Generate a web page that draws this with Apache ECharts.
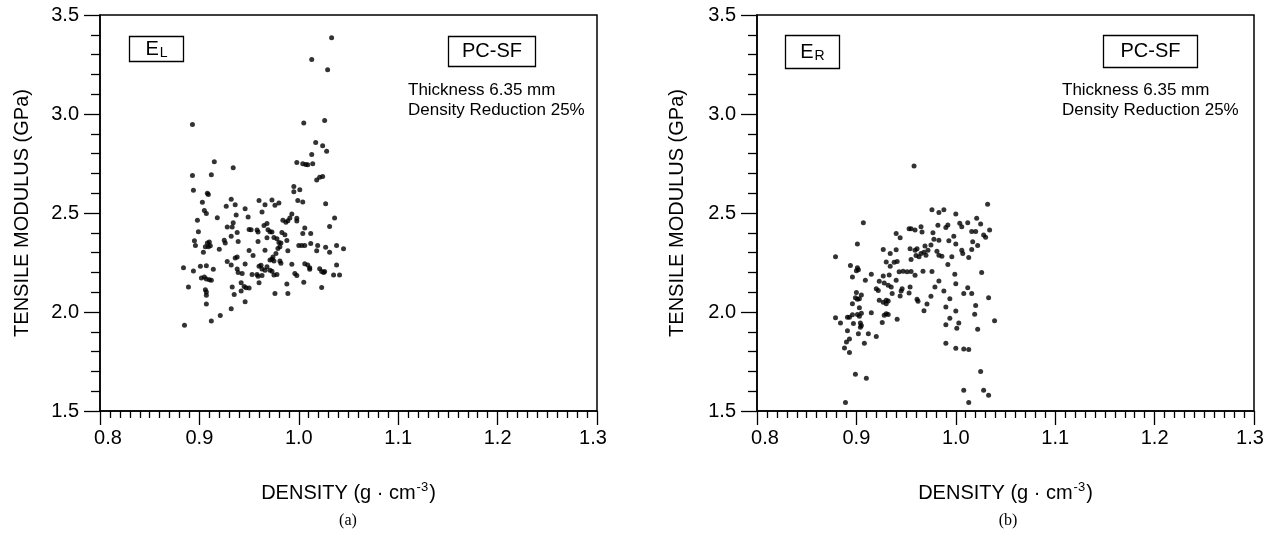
<!DOCTYPE html>
<html><head><meta charset="utf-8">
<script src="https://cdn.jsdelivr.net/npm/echarts@6/dist/echarts.min.js"></script>
<style>html,body{margin:0;padding:0;background:#fff}#c{width:1273px;height:541px}</style>
</head><body><div id="c"></div>
<script>
// ---- tick labels ----
const xTickLabels = ['0.8', '0.9', '1.0', '1.1', '1.2', '1.3'];
const yTickLabels = ['1.5', '2.0', '2.5', '3.0', '3.5'];

// ---- (a) E_L : density (g/cm3) and tensile modulus (GPa) ----
const leftDensity = [
1.033,1.013,1.029,0.893,1.005,1.026,1.017,1.024,1.028,1.013,
0.915,0.934,0.998,1.004,1.007,1.009,1.014,0.893,0.912,1.018,1.021,1.024,
0.894,0.908,0.909,0.995,0.995,1.001,0.903,0.932,0.960,0.973,0.999,1.004,1.027,
0.927,0.936,0.946,0.966,0.976,0.980,0.905,0.907,0.963,0.937,0.949,0.918,0.993,
0.984,0.987,0.989,0.991,0.998,0.998,0.898,1.036,0.934,1.031,0.928,0.933,0.965,0.968,1.006,
0.899,0.938,0.950,0.952,0.958,0.959,0.969,0.971,0.973,0.983,0.986,1.004,1.012,
0.932,0.975,0.968,0.978,0.988,0.895,0.896,0.908,0.910,0.906,0.909,0.911,0.925,0.926,0.939,0.959,
0.980,0.982,0.981,0.979,1.000,1.003,1.006,1.012,1.019,1.027,1.038,
0.920,0.904,0.950,0.954,0.966,0.977,0.989,1.018,1.031,1.045,
0.938,0.936,0.971,0.973,0.975,0.974,0.981,0.982,0.928,0.932,0.946,
0.884,0.894,0.901,0.907,0.914,0.938,0.939,0.943,
0.960,0.962,0.963,0.966,0.968,0.971,0.973,0.993,1.006,1.009,1.011,1.011,1.021,1.023,1.025,1.026,1.038,
0.953,0.958,0.959,0.963,0.975,0.978,0.996,0.998,1.035,1.041,
0.902,0.905,0.907,0.910,0.912,0.889,0.933,0.942,0.945,0.947,0.950,0.960,0.988,1.005,1.023,
0.906,0.907,0.907,0.935,0.942,0.976,0.989,0.907,0.946,0.932,0.921,0.912,0.885];
const leftModulus = [
3.385,3.275,3.223,2.947,2.955,2.967,2.856,2.840,2.812,2.796,
2.759,2.728,2.755,2.749,2.745,2.744,2.749,2.689,2.693,2.667,2.681,2.684,
2.615,2.600,2.593,2.634,2.607,2.617,2.554,2.569,2.563,2.566,2.563,2.556,2.547,
2.534,2.542,2.522,2.542,2.539,2.551,2.512,2.498,2.505,2.490,2.480,2.476,2.495,
2.464,2.453,2.461,2.475,2.473,2.459,2.464,2.475,2.451,2.432,2.429,2.429,2.437,2.447,2.424,
2.405,2.402,2.417,2.415,2.414,2.404,2.415,2.405,2.404,2.402,2.390,2.397,2.397,
2.382,2.376,2.375,2.370,2.361,2.360,2.336,2.349,2.353,2.329,2.329,2.334,2.363,2.349,2.356,2.356,
2.351,2.348,2.329,2.321,2.336,2.336,2.336,2.346,2.336,2.327,2.336,
2.317,2.302,2.310,2.285,2.312,2.295,2.309,2.309,2.302,2.319,
2.278,2.273,2.263,2.266,2.258,2.278,2.258,2.246,2.255,2.238,2.243,
2.224,2.207,2.231,2.233,2.216,2.217,2.200,2.195,
2.231,2.236,2.217,2.211,2.228,2.211,2.206,2.241,2.244,2.238,2.224,2.216,2.219,2.204,2.200,2.204,2.238,
2.189,2.189,2.180,2.184,2.187,2.189,2.194,2.184,2.187,2.187,
2.172,2.177,2.167,2.163,2.160,2.126,2.126,2.148,2.129,2.123,2.121,2.148,2.141,2.150,2.124,
2.112,2.101,2.085,2.089,2.106,2.094,2.094,2.041,2.052,2.016,1.982,1.955,1.933];

// ---- (b) E_R ----
const rightDensity = [
0.958,1.032,0.976,0.983,0.988,1.000,0.907,1.012,1.021,1.025,1.004,1.006,
0.953,0.955,0.959,0.965,0.966,0.982,0.990,0.992,1.016,1.020,1.034,0.940,0.944,0.977,1.028,1.030,
0.901,0.978,0.983,0.993,0.998,1.000,1.017,1.022,0.927,0.934,0.940,0.954,0.959,0.961,0.969,0.972,0.975,
0.960,0.963,0.965,0.968,0.970,0.981,0.983,0.986,0.996,1.006,1.007,1.016,1.013,0.879,0.930,0.934,0.938,0.941,0.955,0.894,0.901,0.902,0.992,
0.900,0.915,0.927,0.933,0.943,0.947,0.951,0.955,0.959,0.967,0.976,0.999,1.026,
0.896,0.909,0.923,0.928,0.932,0.935,0.920,0.922,0.940,0.946,0.945,0.954,0.944,0.953,
0.900,0.905,0.899,0.901,0.903,0.936,1.000,1.012,1.008,1.016,0.983,0.979,0.988,0.994,
0.961,0.962,0.975,0.971,1.033,0.896,0.903,0.923,0.927,0.930,0.932,0.930,0.990,1.000,1.020,1.019,0.968,
0.879,0.891,0.893,0.896,0.901,0.905,0.903,0.915,0.930,0.932,0.928,
0.884,0.897,0.904,0.905,0.904,0.926,0.941,0.994,1.003,0.990,1.001,1.022,1.039,
0.891,0.902,0.912,0.920,0.893,0.890,0.908,0.990,0.888,0.893,1.000,1.008,1.013,
0.899,0.910,1.025,1.008,1.028,1.033,0.889,1.013];
const rightModulus = [
2.737,2.544,2.517,2.502,2.517,2.495,2.451,2.451,2.473,2.444,2.448,2.431,
2.421,2.421,2.414,2.431,2.404,2.438,2.427,2.439,2.407,2.407,2.414,2.397,2.375,2.400,2.389,2.377,
2.343,2.367,2.363,2.360,2.383,2.343,2.355,2.336,2.316,2.295,2.314,2.319,2.312,2.319,2.333,2.312,2.339,
2.285,2.279,2.295,2.302,2.287,2.307,2.287,2.282,2.279,2.312,2.295,2.316,2.275,2.279,2.253,2.231,2.251,2.255,2.265,2.235,2.224,2.214,2.240,
2.208,2.191,2.182,2.187,2.203,2.206,2.203,2.204,2.186,2.206,2.204,2.191,2.199,
2.177,2.160,2.155,2.147,2.135,2.126,2.118,2.109,2.160,2.118,2.106,2.126,2.081,2.096,
2.098,2.086,2.072,2.064,2.067,2.093,2.143,2.123,2.093,2.093,2.157,2.126,2.106,2.067,
2.065,2.054,2.079,2.040,2.072,2.042,2.021,2.059,2.049,2.059,2.055,2.042,2.025,2.005,2.033,1.989,2.006,
1.971,1.974,1.974,1.986,1.988,1.994,1.979,1.996,1.991,1.988,1.983,
1.945,1.942,1.945,1.932,1.923,1.947,1.964,1.969,1.944,1.935,1.918,1.913,1.956,
1.905,1.890,1.890,1.876,1.864,1.849,1.842,1.842,1.818,1.795,1.817,1.813,1.810,
1.686,1.666,1.700,1.605,1.605,1.580,1.543,1.543];

const FONT = '"Liberation Sans", Arial, Helvetica, sans-serif';
const SERIF = '"Liberation Serif", "Times New Roman", serif';
const BLACK = '#000';

function pairs(xs, ys) { return xs.map((x, i) => [x, ys[i]]); }

function xAxisFor(gi) {
  return {
    gridIndex: gi, type: 'value', min: 0.8, max: 1.3, interval: 0.1,
    axisLine: { show: true, onZero: false, lineStyle: { color: BLACK, width: 1.5 } },
    axisTick: { show: true, inside: false, length: 14, lineStyle: { color: BLACK, width: 1.3 } },
    minorTick: { show: true, splitNumber: 10, length: 7, lineStyle: { color: BLACK, width: 1.3 } },
    splitLine: { show: false }, minorSplitLine: { show: false },
    axisLabel: {
      fontSize: 20, color: BLACK, fontFamily: FONT, margin: 17,
      formatter: function (v) {
        const i = Math.round((v - 0.8) / 0.1);
        const s = xTickLabels[i];
        if (i === 0) return '{first|' + s + '}';
        if (i === xTickLabels.length - 1) return '{last|' + s + '}';
        return s;
      },
      rich: {
        first: { fontSize: 20, fontFamily: FONT, color: BLACK, padding: [0, 0, 0, 16] },
        last: { fontSize: 20, fontFamily: FONT, color: BLACK, padding: [0, 8, 0, 0] }
      }
    },
    name: '{t|DENSITY (g · cm}{s|-3}{t|)}',
    nameLocation: 'middle', nameGap: 70,
    nameTextStyle: {
      rich: {
        t: { fontSize: 20, fontFamily: FONT, color: BLACK, lineHeight: 24 },
        s: { fontSize: 13, fontFamily: FONT, color: BLACK, verticalAlign: 'top', lineHeight: 24, padding: [0, 1, 12, 1] }
      }
    }
  };
}
function yAxisFor(gi, gap) {
  return {
    gridIndex: gi, type: 'value', min: 1.5, max: 3.5, interval: 0.5,
    axisLine: { show: true, onZero: false, lineStyle: { color: BLACK, width: 1.5 } },
    axisTick: { show: true, inside: false, length: 16, lineStyle: { color: BLACK, width: 1.3 } },
    minorTick: { show: true, splitNumber: 5, length: 9, lineStyle: { color: BLACK, width: 1.3 } },
    splitLine: { show: false }, minorSplitLine: { show: false },
    axisLabel: {
      fontSize: 20, color: BLACK, fontFamily: FONT, margin: 21,
      formatter: function (v) { return yTickLabels[Math.round((v - 1.5) / 0.5)]; }
    },
    name: 'TENSILE MODULUS (GPa)', nameLocation: 'middle', nameGap: gap, nameRotate: 90,
    nameTextStyle: { fontSize: 20, fontFamily: FONT, color: BLACK }
  };
}

function boxGroup(x, y, w, h, rich, textStr) {
  return {
    type: 'group', left: x, top: y, children: [
      { type: 'rect', shape: { x: 0, y: 0, width: w, height: h }, style: { fill: 'none', stroke: BLACK, lineWidth: 1.3 } },
      { type: 'text', x: w / 2, y: h / 2, style: { text: textStr, rich: rich, align: 'center', verticalAlign: 'middle', fontSize: 20, fontFamily: FONT, fill: BLACK } }
    ]
  };
}
const subRich = {
  e: { fontSize: 20, fontFamily: FONT, fill: BLACK, color: BLACK },
  s: { fontSize: 14, fontFamily: FONT, fill: BLACK, color: BLACK, padding: [8, 0, 0, 1] }
};

function infoText(x, y) {
  return {
    type: 'text', x: x, y: y,
    style: { text: 'Thickness 6.35 mm\nDensity Reduction 25%', fontSize: 17, lineHeight: 20, fontFamily: FONT, fill: BLACK, align: 'left', verticalAlign: 'top' }
  };
}

const chart = echarts.init(document.getElementById('c'), null, { renderer: 'canvas' });
chart.setOption({
  backgroundColor: '#fff',
  animation: false,
  grid: [
    { left: 100, top: 15, width: 497, height: 396, show: true, borderColor: BLACK, borderWidth: 1.5, backgroundColor: 'transparent' },
    { left: 757, top: 15, width: 497, height: 396, show: true, borderColor: BLACK, borderWidth: 1.5, backgroundColor: 'transparent' }
  ],
  xAxis: [xAxisFor(0), xAxisFor(1)],
  yAxis: [yAxisFor(0, 68), yAxisFor(1, 70)],
  series: [
    { type: 'scatter', xAxisIndex: 0, yAxisIndex: 0, data: pairs(leftDensity, leftModulus), symbol: 'circle', symbolSize: 5, itemStyle: { color: BLACK } },
    { type: 'scatter', xAxisIndex: 1, yAxisIndex: 1, data: pairs(rightDensity, rightModulus), symbol: 'circle', symbolSize: 5, itemStyle: { color: BLACK } }
  ],
  graphic: [
    boxGroup(127, 34, 54, 25, subRich, '{e|E}{s|L}'),
    boxGroup(446, 34, 87, 30, null, 'PC-SF'),
    infoText(408, 80),
    boxGroup(783, 33, 54, 33, subRich, '{e|E}{s|R}'),
    boxGroup(1101, 33, 94, 32, null, 'PC-SF'),
    infoText(1062, 80),
    { type: 'text', x: 348, y: 521, style: { text: '(a)', fontSize: 16, fontFamily: SERIF, fill: BLACK, align: 'center', verticalAlign: 'middle' } },
    { type: 'text', x: 1008, y: 521, style: { text: '(b)', fontSize: 16, fontFamily: SERIF, fill: BLACK, align: 'center', verticalAlign: 'middle' } }
  ]
});
</script>
</body></html>
